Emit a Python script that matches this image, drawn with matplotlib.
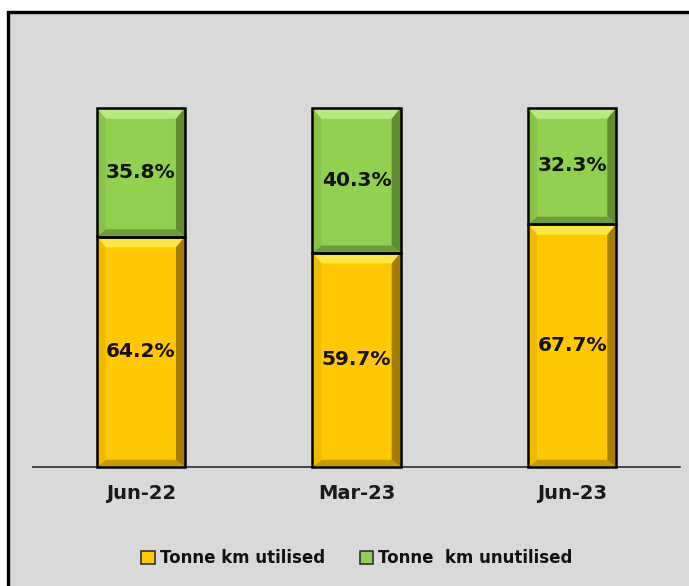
import matplotlib.pyplot as plt
from matplotlib.patches import Rectangle, Polygon, Patch

periods = ["Jun-22", "Mar-23", "Jun-23"]
utilised = [64.2, 59.7, 67.7]
unutilised = [35.8, 40.3, 32.3]
series_names = ["Tonne km utilised", "Tonne  km unutilised"]

# base, top bevel, bottom bevel, left bevel, right bevel
yellow = ["#FFC800", "#FFE640", "#C79A00", "#F0BA00", "#A57E00"]
green = ["#92D050", "#B8EA80", "#6C9E3A", "#88C448", "#5F8E32"]

W, H = 689, 586
fig = plt.figure(figsize=(W / 100, H / 100), dpi=100, facecolor="white")
fig.add_artist(Rectangle((8 / W, -0.1), 1.2, 1.1 - 11.5 / H,
                         transform=fig.transFigure, facecolor="#d9d9d9",
                         edgecolor="black", lw=2.4, zorder=0))

ax = fig.add_axes([33 / W, (H - 467) / H, (680 - 33) / W, (467 - 108) / H])
ax.set_facecolor("none")
ax.set_xlim(-0.5, 2.5)
ax.set_ylim(0, 100)
for s in ["top", "left", "right"]:
    ax.spines[s].set_visible(False)
ax.spines["bottom"].set_color("#3a3a3a")
ax.spines["bottom"].set_linewidth(1.3)
ax.set_yticks([])
ax.set_xticks(range(len(periods)))
ax.set_xticklabels(periods, fontsize=14, fontweight="bold", color="#1a1a1a")
ax.tick_params(axis="x", length=0, pad=12)

width = 0.41
bx, by_top, by_bot = 0.042, 3.0, 2.0


def bevel_bar(x, bottom, height, cols):
    x0, x1 = x - width / 2, x + width / 2
    y0, y1 = bottom, bottom + height
    ax.add_patch(Rectangle((x0, y0), width, height, facecolor=cols[0],
                           edgecolor="none", clip_on=False, zorder=2))
    polys = [
        ([(x0, y1), (x1, y1), (x1 - bx, y1 - by_top), (x0 + bx, y1 - by_top)], cols[1]),
        ([(x0, y0), (x1, y0), (x1 - bx, y0 + by_bot), (x0 + bx, y0 + by_bot)], cols[2]),
        ([(x0, y0), (x0 + bx, y0 + by_bot), (x0 + bx, y1 - by_top), (x0, y1)], cols[3]),
        ([(x1, y0), (x1 - bx, y0 + by_bot), (x1 - bx, y1 - by_top), (x1, y1)], cols[4]),
    ]
    for pts, c in polys:
        ax.add_patch(Polygon(pts, closed=True, facecolor=c, edgecolor="none",
                             clip_on=False, zorder=3))
    ax.add_patch(Rectangle((x0, y0), width, height, facecolor="none",
                           edgecolor="black", lw=1.8, clip_on=False, zorder=4))
    ax.text(x, y0 + height / 2, f"{height:.1f}%", ha="center", va="center",
            fontsize=14.5, fontweight="bold", color="#111111", zorder=5)


for i in range(len(periods)):
    bevel_bar(i, 0, utilised[i], yellow)
    bevel_bar(i, utilised[i], unutilised[i], green)

handles = [Patch(facecolor=yellow[0], edgecolor="#333333", lw=1.2),
           Patch(facecolor=green[0], edgecolor="#333333", lw=1.2)]
fig.legend(handles, series_names, loc="center", bbox_to_anchor=(357 / W, 1 - 558 / H),
           ncol=2, frameon=False, prop={"size": 12, "weight": "bold"},
           handlelength=0.8, handleheight=0.8, handletextpad=0.3,
           columnspacing=2.1, labelcolor="#111111")

fig.savefig("out.png", dpi=100, facecolor=fig.get_facecolor())
